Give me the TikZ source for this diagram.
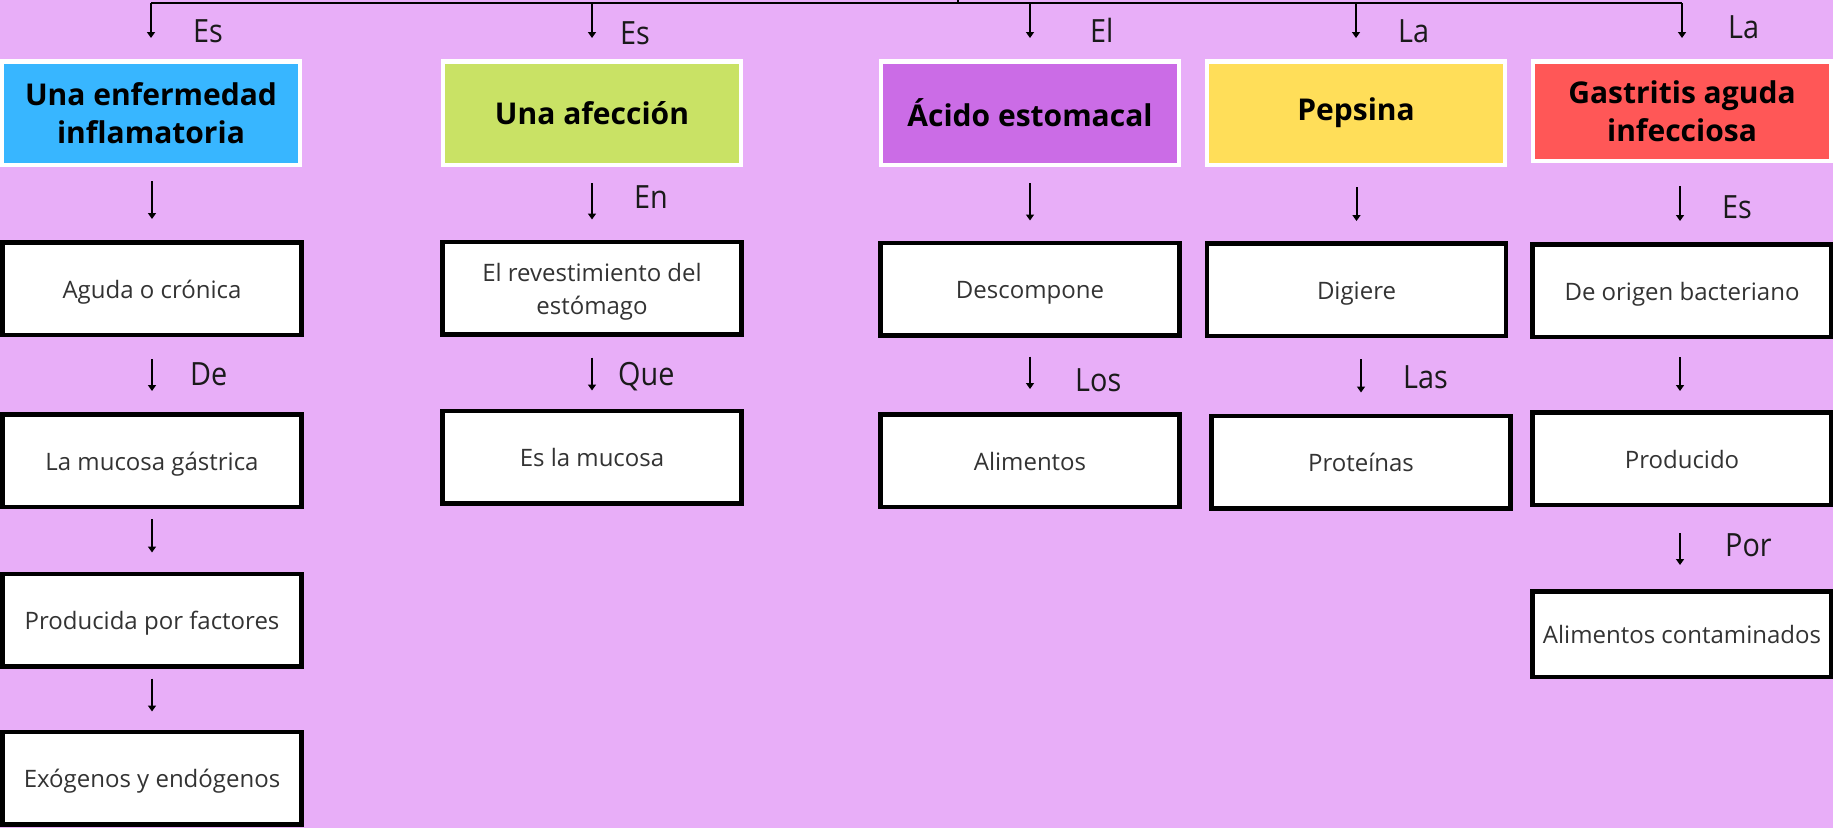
\documentclass[tikz,border=0pt]{standalone}
\usepackage{fontspec}
\setmainfont{Open Sans}
\newfontfamily\hdfont{Open Sans}
\newfontfamily\lbfont{Open Sans}[FakeStretch=0.9]
\usetikzlibrary{arrows.meta}
\definecolor{bg}{HTML}{E8AEF8}
\definecolor{cblue}{HTML}{38B6FF}
\definecolor{cgreen}{HTML}{C9E265}
\definecolor{cpurple}{HTML}{CB6CE6}
\definecolor{cyellow}{HTML}{FFDE59}
\definecolor{cred}{HTML}{FF5757}
\definecolor{txt}{HTML}{333333}
\definecolor{lbl}{HTML}{1A1A1A}
\begin{document}
\begin{tikzpicture}[x=1pt,y=-1pt,
  hdr/.style={draw=white,line width=4.5pt,minimum width=298pt,minimum height=103.5pt,inner sep=0pt,align=center,text=black,font=\hdfont\bfseries\fontsize{30}{38}\selectfont},
  box/.style={draw=black,fill=white,line width=4.5pt,minimum width=299pt,minimum height=92.5pt,inner sep=0pt,text height=19pt,text depth=0pt,align=center,text=txt,font=\fontsize{24}{33}\selectfont},
  lab/.style={anchor=base west,inner sep=0pt,text=lbl,font=\lbfont\fontsize{32}{32}\selectfont},
  arr/.style={-{Triangle[length=6pt,width=8pt]},line width=2pt}]
\fill[bg] (0,0) rectangle (1833,828);
\useasboundingbox (0,0) rectangle (1833,828);

% headers
\node[hdr,fill=cblue]   (h1) at (151,113) {Una enfermedad\\inflamatoria};
\node[hdr,fill=cgreen]  (h2) at (592,113) {Una afección};
\node[hdr,fill=cpurple] (h3) at (1030,113) {Ácido estomacal};
\node[hdr,fill=cyellow] (h4) at (1356,113) {Pepsina};
\node[hdr,fill=cred,minimum height=99.5pt] (h5) at (1682,111) {Gastritis aguda\\infecciosa};

% top connector
\coordinate (top) at (0,3);
\coordinate (tick) at (958,0);
\draw[line width=2.5pt] (h1.north |- top) -- (h5.north |- top);
\draw[line width=2pt] (tick) -- (tick |- top);
\foreach \h in {h1,h2,h3,h4,h5}
  \draw[arr,shorten >=21pt] (\h.north |- top) -- (\h.north);

\node[lab] (l1) at (193,42) {Es};
\node[lab] (l2) at (620,44) {Es};
\node[lab] (l3) at (1090,42) {El};
\node[lab] (l4) at (1398,42) {La};
\node[lab] (l5) at (1728,38) {La};

% column 1
\node[box] (b11) at (152,288.5) {Aguda o crónica};
\node[box] (b12) at (152,460.5) {La mucosa gástrica};
\node[box] (b13) at (152,620) {Producida por factores};
\node[box] (b14) at (152,778) {Exógenos y endógenos};
\draw[arr,shorten <=14pt,shorten >=21pt] (b11.north |- h1.south) -- (b11.north);
\draw[arr,shorten <=22pt,shorten >=21pt] (b11.south) -- (b12.north);
\draw[arr,shorten <=10pt,shorten >=19pt] (b12.south) -- (b13.north);
\draw[arr,shorten <=10pt,shorten >=18pt] (b13.south) -- (b14.north);
\node[lab] (l11) at (190,385) {De};

% column 2
\node[box,text height=52pt] (b21) at (592,288) {El revestimiento del\\estómago};
\node[box] (b22) at (592,457) {Es la mucosa};
\draw[arr,shorten <=16pt,shorten >=20pt] (h2.south) -- (b21.north);
\draw[arr,shorten <=21pt,shorten >=18pt] (b21.south) -- (b22.north);
\node[lab] (l21) at (634,208) {En};
\node[lab] (l22) at (618,385) {Que};

% column 3
\node[box] (b31) at (1030,289) {Descompone};
\node[box] (b32) at (1030,460.5) {Alimentos};
\draw[arr,shorten <=16pt,shorten >=20pt] (h3.south) -- (b31.north);
\draw[arr,shorten <=19pt,shorten >=23pt] (b31.south) -- (b32.north);
\node[lab] (l31) at (1075,391) {Los};

% column 4
\node[box] (b41) at (1356.5,289.5) {Digiere};
\node[box] (b42) at (1361,462) {Proteínas};
\draw[arr,shorten <=20pt,shorten >=20pt] (b41.north |- h4.south) -- (b41.north);
\draw[arr,shorten <=21pt,shorten >=21pt] (b42.north |- b41.south) -- (b42.north);
\node[lab] (l41) at (1403,388) {Las};

% column 5
\node[box] (b51) at (1682,290.5) {De origen bacteriano};
\node[box] (b52) at (1682,458.5) {Producido};
\node[box,minimum height=85.5pt] (b53) at (1682,634) {Alimentos contaminados};
\draw[arr,shorten <=23pt,shorten >=21pt] ([xshift=-2pt]h5.south) -- ([xshift=-2pt]b51.north);
\draw[arr,shorten <=18pt,shorten >=19pt] ([xshift=-2pt]b51.south) -- ([xshift=-2pt]b52.north);
\draw[arr,shorten <=26pt,shorten >=24pt] ([xshift=-2pt]b52.south) -- ([xshift=-2pt]b53.north);
\node[lab] (l51) at (1722,218) {Es};
\node[lab] (l52) at (1725,556) {Por};
\end{tikzpicture}
\end{document}
